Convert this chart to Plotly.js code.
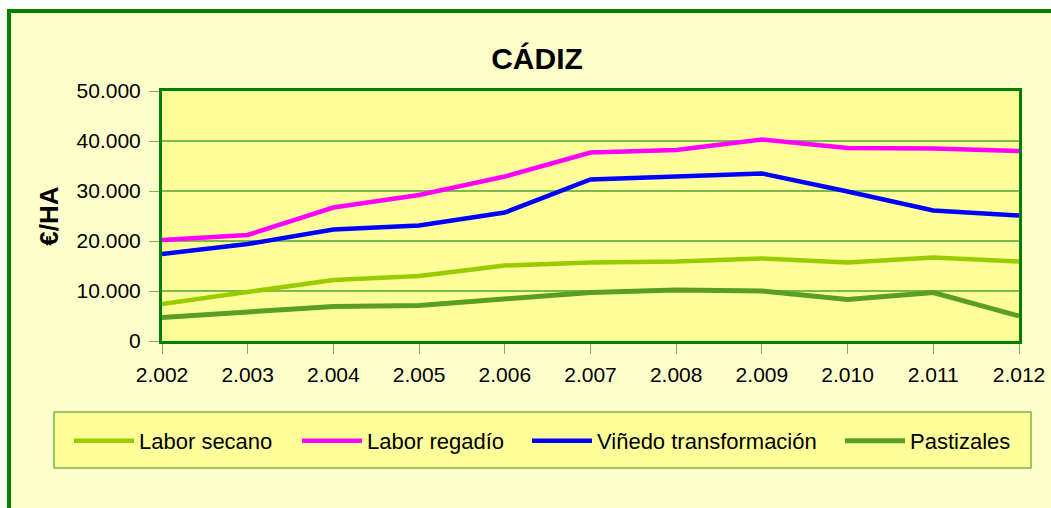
<!DOCTYPE html>
<html>
<head>
<meta charset="utf-8">
<script src="https://cdn.plot.ly/plotly-3.0.1.min.js"></script>
<style>html,body{margin:0;padding:0;background:#fff;}#chart{width:1051px;height:508px;}</style>
</head>
<body>
<div id="chart"></div>
<script>
const years = [2002, 2003, 2004, 2005, 2006, 2007, 2008, 2009, 2010, 2011, 2012];
const xTickLabels = ['2.002', '2.003', '2.004', '2.005', '2.006', '2.007', '2.008', '2.009', '2.010', '2.011', '2.012'];
const yTickVals = [0, 10000, 20000, 30000, 40000, 50000];
const yTickLabels = ['0', '10.000', '20.000', '30.000', '40.000', '50.000'];
const seriesNames = ['Labor secano', 'Labor regadío', 'Viñedo transformación', 'Pastizales'];
const laborSecano = [7400, 9700, 12200, 13000, 15100, 15700, 15900, 16500, 15700, 16700, 15900];
const laborRegadio = [20200, 21200, 26700, 29200, 32900, 37700, 38200, 40300, 38600, 38500, 38000];
const vinedoTransformacion = [17400, 19400, 22300, 23100, 25700, 32300, 32900, 33500, 29900, 26100, 25100];
const pastizales = [4700, 5900, 6900, 7100, 8300, 9700, 10200, 10000, 8300, 9700, 5000];

const FONT = 'Liberation Sans, Arial, sans-serif';
const colors = ['#99CC00', '#FF00FF', '#0000FF', '#5A9E22'];
const widths = [4.5, 4.5, 4.5, 5];
const values = [laborSecano, laborRegadio, vinedoTransformacion, pastizales];
const legendIds = ['legend', 'legend2', 'legend3', 'legend4'];
const textStarts = [142, 370, 600, 913];

const traces = values.map((v, i) => ({
  x: years, y: v, name: seriesNames[i], type: 'scatter', mode: 'lines',
  line: {color: colors[i], width: widths[i]}, legend: legendIds[i]
}));

const W = 1051, H = 508;
const L = 162, R = 1019, T = 91, B = 341;
const pw = R - L, ph = B - T;
const px = v => (v - L) / pw;
const py = v => (B - v) / ph;

const layout = {
  width: W, height: H,
  margin: {l: L, r: W - R, t: T, b: H - B, pad: 0},
  paper_bgcolor: '#FFFFCC',
  plot_bgcolor: '#FFFF99',
  font: {family: FONT, size: 21, color: '#000'},
  showlegend: true,
  title: {text: 'CÁDIZ', font: {family: FONT, size: 30, color: '#000', weight: 'bold'},
          x: 537 / W, xanchor: 'center', y: 1 - 58 / H, yanchor: 'middle', xref: 'container', yref: 'container'},
  xaxis: {
    range: [2002, 2012], tickvals: years, ticktext: xTickLabels,
    showgrid: false, zeroline: false,
    showline: true, linecolor: '#008000', linewidth: 3, mirror: true,
    ticks: 'outside', ticklen: 10, tickwidth: 1, tickcolor: '#7AB648',
    tickfont: {family: FONT, size: 21, color: '#000'}, ticklabelstandoff: 3
  },
  yaxis: {
    range: [0, 50000], tickvals: yTickVals, ticktext: yTickLabels,
    showgrid: true, gridcolor: '#7DBA4C', gridwidth: 1.3, zeroline: false,
    showline: true, linecolor: '#008000', linewidth: 3, mirror: true,
    ticks: 'outside', ticklen: 10, tickwidth: 1, tickcolor: '#7AB648',
    tickfont: {family: FONT, size: 21, color: '#000'}, ticklabelstandoff: 4,
    title: {text: '€/HA', font: {family: FONT, size: 26, color: '#000', weight: 'bold'}, standoff: 11}
  },
  shapes: [
    {type: 'rect', xref: 'paper', yref: 'paper', x0: -0.3, x1: px(7), y0: -1.5, y1: 2, fillcolor: '#FFFFFF', line: {width: 0}, layer: 'below'},
    {type: 'rect', xref: 'paper', yref: 'paper', x0: -0.3, x1: 1.2, y0: py(9), y1: 2, fillcolor: '#FFFFFF', line: {width: 0}, layer: 'below'},
    {type: 'rect', xref: 'paper', yref: 'paper', x0: px(9), x1: 1.2, y0: -1.5, y1: py(11), fillcolor: 'rgba(0,0,0,0)', line: {color: '#008000', width: 4}, layer: 'below'},
    {type: 'rect', xref: 'paper', yref: 'paper', x0: px(54), x1: px(1031), y0: py(468), y1: py(412), fillcolor: '#FFFF99', line: {color: '#7AB648', width: 1.5}, layer: 'below'}
  ]
};

legendIds.forEach((id, i) => {
  layout[id] = {
    xref: 'container', yref: 'container',
    x: (textStarts[i] - 40 - 33) / W, xanchor: 'left',
    y: 1 - 441 / H, yanchor: 'middle',
    bgcolor: 'rgba(0,0,0,0)', borderwidth: 0,
    font: {family: FONT, size: 22, color: '#000'},
    itemwidth: 60,
    orientation: 'h'
  };
});

Plotly.newPlot('chart', traces, layout, {displayModeBar: false, staticPlot: true});
</script>
</body>
</html>
